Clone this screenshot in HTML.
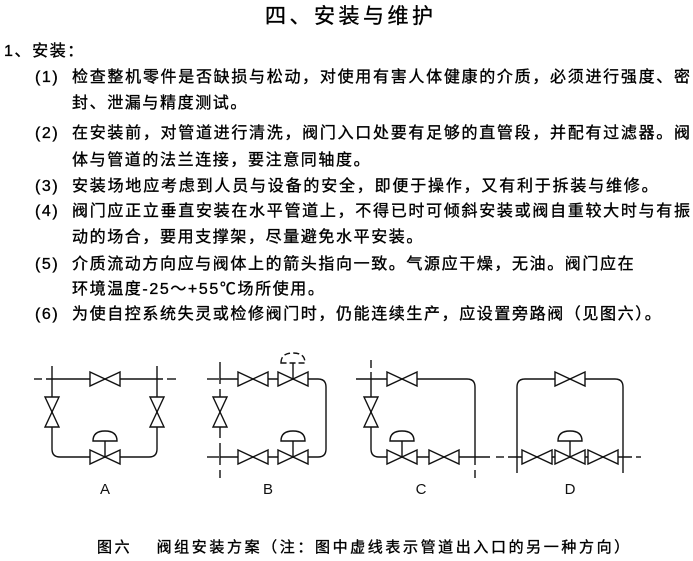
<!DOCTYPE html>
<html><head><meta charset="utf-8"><style>
body{margin:0;width:693px;height:561px;background:#fff;position:relative;overflow:hidden;font-family:"Liberation Sans","Noto Sans CJK SC",sans-serif;color:#000}
.t{position:absolute;white-space:nowrap;font-size:16px;line-height:20px;letter-spacing:1.6px;-webkit-text-stroke:0.35px #000}
.j{text-align:justify;text-align-last:justify;letter-spacing:0}
svg{position:absolute;left:0;top:0}
</style></head><body>
<div class="t" style="left:265px;top:5px;font-size:21px;line-height:24px;letter-spacing:3.5px">四、安装与维护</div>
<div class="t" style="left:4px;top:42px">1、安装：</div>
<div class="t" style="left:35px;top:68px">(1)</div>
<div class="t j" style="left:72px;top:68px;width:618px">检查整机零件是否缺损与松动，对使用有害人体健康的介质，必须进行强度、密</div>
<div class="t" style="left:72px;top:94px">封、泄漏与精度测试。</div>
<div class="t" style="left:35px;top:124px">(2)</div>
<div class="t j" style="left:72px;top:124px;width:618px">在安装前，对管道进行清洗，阀门入口处要有足够的直管段，并配有过滤器。阀</div>
<div class="t" style="left:72px;top:151px">体与管道的法兰连接，要注意同轴度。</div>
<div class="t" style="left:35px;top:177px">(3)</div>
<div class="t" style="left:72px;top:177px;letter-spacing:1.8px">安装场地应考虑到人员与设备的安全，即便于操作，又有利于拆装与维修。</div>
<div class="t" style="left:35px;top:202px">(4)</div>
<div class="t j" style="left:72px;top:202px;width:618px">阀门应正立垂直安装在水平管道上，不得已时可倾斜安装或阀自重较大时与有振</div>
<div class="t" style="left:72px;top:228px">动的场合，要用支撑架，尽量避免水平安装。</div>
<div class="t" style="left:35px;top:255px">(5)</div>
<div class="t" style="left:72px;top:255px">介质流动方向应与阀体上的箭头指向一致。气源应干燥，无油。阀门应在</div>
<div class="t" style="left:72px;top:280px">环境温度-25～+55℃场所使用。</div>
<div class="t" style="left:35px;top:305px">(6)</div>
<div class="t" style="left:72px;top:305px">为使自控系统失灵或检修阀门时，仍能连续生产，应设置旁路阀（见图六）。</div>
<div class="t" style="left:97px;top:538px;font-size:15px;letter-spacing:2.6px">图六　 阀组安装方案（注：图中虚线表示管道出入口的另一种方向）</div>
<svg width="693" height="561" stroke="#111" stroke-width="1.4" fill="none">
<defs>
<g id="hv"><polygon points="-15,-7 0,0 -15,7" fill="#fff"/><polygon points="15,-7 0,0 15,7" fill="#fff"/></g>
<g id="vv"><polygon points="-7,-15 0,0 7,-15" fill="#fff"/><polygon points="-7,15 0,0 7,15" fill="#fff"/></g>
<g id="act"><line x1="0" y1="0" x2="0" y2="-16"/><path d="M-12,-16 Q-12,-26 0,-26 Q12,-26 12,-16 Z" fill="#fff"/></g>
</defs>
<!-- A -->
<line x1="34" y1="379" x2="42" y2="379"/><line x1="46" y1="379" x2="163" y2="379"/><line x1="167" y1="379" x2="176" y2="379"/>
<path d="M52,366 V449 Q52,457 60,457 H149 Q157,457 157,449 V366"/>
<use href="#hv" x="105" y="379"/><use href="#vv" x="52" y="412"/><use href="#vv" x="157" y="412"/>
<use href="#act" x="105" y="457"/><use href="#hv" x="105" y="457"/>
<!-- B -->
<line x1="220" y1="362" x2="220" y2="478" stroke-dasharray="22,5"/>
<line x1="207" y1="379" x2="219" y2="379"/><line x1="207" y1="457" x2="219" y2="457"/>
<path d="M220,379 H318 Q326,379 326,387 V449 Q326,457 318,457 H220"/>
<use href="#hv" x="253" y="379"/><use href="#hv" x="293" y="379"/><use href="#vv" x="220" y="412"/>
<line x1="293" y1="379" x2="293" y2="363"/><path d="M281,363 Q281,353 293,353 Q305,353 305,363 Z" fill="#fff" stroke-dasharray="6,3"/>
<use href="#hv" x="253" y="457"/><use href="#act" x="293" y="457"/><use href="#hv" x="293" y="457"/>
<!-- C -->
<line x1="371" y1="360" x2="371" y2="368"/>
<line x1="356" y1="379" x2="467" y2="379"/>
<path d="M467,379 Q475,379 475,387 V465"/><line x1="475" y1="470" x2="475" y2="478"/>
<path d="M371,372 V449 Q371,457 379,457 H490"/>
<use href="#hv" x="402" y="379"/><use href="#vv" x="371" y="412"/>
<use href="#act" x="402" y="457"/><use href="#hv" x="402" y="457"/><use href="#hv" x="444" y="457"/>
<!-- D -->
<line x1="496" y1="457" x2="504" y2="457"/><line x1="508" y1="457" x2="632" y2="457"/><line x1="636" y1="457" x2="641" y2="457"/>
<path d="M517,473 V387 Q517,379 525,379 H615 Q623,379 623,387 V473"/>
<use href="#hv" x="570" y="379"/>
<use href="#hv" x="537" y="457"/><use href="#act" x="570" y="457"/><use href="#hv" x="570" y="457"/><use href="#hv" x="603" y="457"/>
<g fill="#111" stroke="none" font-family="Liberation Sans,sans-serif" font-size="15">
<text x="105" y="494" text-anchor="middle">A</text><text x="268" y="494" text-anchor="middle">B</text>
<text x="421" y="494" text-anchor="middle">C</text><text x="570" y="494" text-anchor="middle">D</text>
</g>
</svg>
</body></html>
